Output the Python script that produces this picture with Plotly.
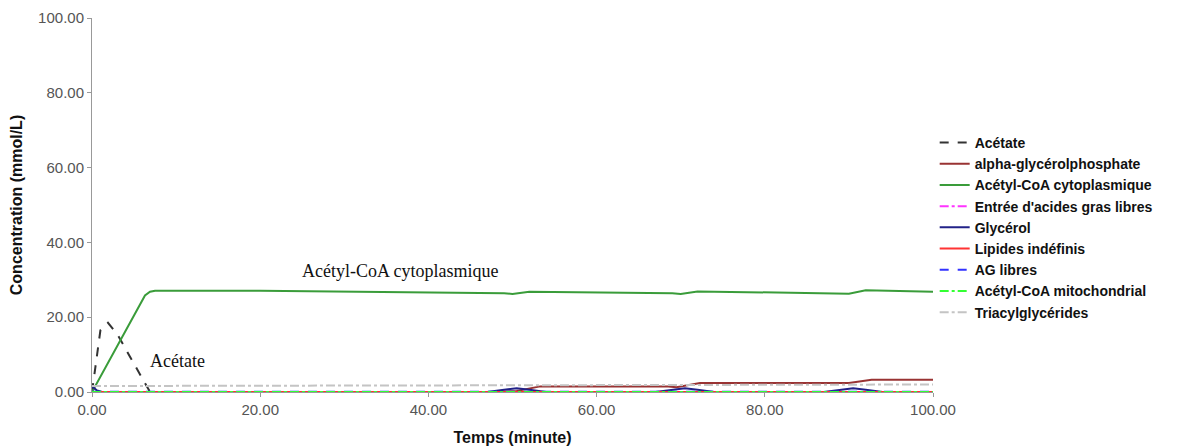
import plotly.graph_objects as go

# ---- data ----
t_acetate = [0, 0.5, 1.0, 1.9, 3.0, 4.5, 6.0, 6.9, 100]
acetate = [0, 9.0, 16.5, 18.5, 15.5, 9.5, 3.5, 0, 0]

t_agp = [0, 48, 50.5, 53.3, 68.5, 69.5, 72.3, 90.0, 92.7, 100]
agp = [0, 0, 0.3, 1.5, 1.5, 1.3, 2.4, 2.4, 3.3, 3.3]

t_accyt = [0, 6.3, 6.9, 7.5, 20, 30, 40, 49, 50, 52, 69, 70, 72, 89, 90, 92, 100]
accyt = [0, 25.8, 26.8, 27.1, 27.1, 26.9, 26.7, 26.4, 26.2, 26.8, 26.4, 26.2, 26.9, 26.5, 26.3, 27.2, 26.8]

t_zero = [0, 100]
entree = [0, 0]
lipides = [0, 0]
aglibres = [0.1, 0.1]
acmito = [0, 0]

t_gly = [0, 0.6, 1.2, 47, 49, 50.5, 52, 54, 67, 69, 70.5, 72, 74, 87, 89, 90.5, 92, 94, 100]
glycerol = [1.5, 0.4, 0, 0, 0.6, 1.0, 0.6, 0, 0, 0.6, 1.0, 0.6, 0, 0, 0.6, 1.0, 0.6, 0, 0]

t_tag = [0, 50, 100]
tag = [1.6, 1.8, 2.0]

names = ["Acétate", "alpha-glycérolphosphate", "Acétyl-CoA cytoplasmique",
         "Entrée d'acides gras libres", "Glycérol", "Lipides indéfinis",
         "AG libres", "Acétyl-CoA mitochondrial", "Triacylglycérides"]

x_ticks = [0, 20, 40, 60, 80, 100]
y_ticks = [0, 20, 40, 60, 80, 100]

series = [
    (t_acetate, acetate, "#333333", "dash"),
    (t_agp, agp, "#993333", "solid"),
    (t_accyt, accyt, "#3a9c3a", "solid"),
    (t_zero, entree, "#ff33ff", "dashdot"),
    (t_gly, glycerol, "#222288", "solid"),
    (t_zero, lipides, "#ff3333", "solid"),
    (t_zero, aglibres, "#3333ff", "dash"),
    (t_zero, acmito, "#33ff33", "dashdot"),
    (t_tag, tag, "#c4c4c4", "dashdot"),
]

fig = go.Figure()
for name, (xs, ys, col, dash) in zip(names, series):
    fig.add_trace(go.Scatter(x=xs, y=ys, mode="lines", name=name,
                             line=dict(color=col, width=2, dash=dash)))

fig.add_annotation(x=36.6, y=32.3, text="Acétyl-CoA cytoplasmique", showarrow=False,
                   font=dict(family="Liberation Serif", size=18, color="#111111"))
fig.add_annotation(x=10.2, y=8.3, text="Acétate", showarrow=False,
                   font=dict(family="Liberation Serif", size=18, color="#111111"))

axis_common = dict(showline=True, linecolor="#999999", linewidth=1, ticks="outside",
                   ticklen=4, tickcolor="#999999", showgrid=False, zeroline=False,
                   automargin=False,
                   tickfont=dict(family="Liberation Sans", size=15, color="#555555"),
                   tickformat=".2f")

fig.update_layout(
    width=1184, height=446,
    margin=dict(l=84, r=259, t=10, b=62),
    plot_bgcolor="white", paper_bgcolor="white",
    xaxis=dict(range=[0, 100], tickvals=x_ticks, **axis_common,
               title=dict(text="Temps (minute)", standoff=14,
                          font=dict(family="Liberation Sans", size=16, color="#111111", weight="bold"))),
    yaxis=dict(range=[0, 100], tickvals=y_ticks, **axis_common,
               title=dict(text="Concentration (mmol/L)", standoff=12,
                          font=dict(family="Liberation Sans", size=16, color="#111111", weight="bold"))),
    legend=dict(x=1.002, xanchor="left", y=0.44, yanchor="middle",
                font=dict(family="Liberation Sans", size=14, color="#111111", weight="bold"),
                tracegroupgap=0, itemwidth=30, bgcolor="rgba(0,0,0,0)"),
)

fig.write_html("out.html")
